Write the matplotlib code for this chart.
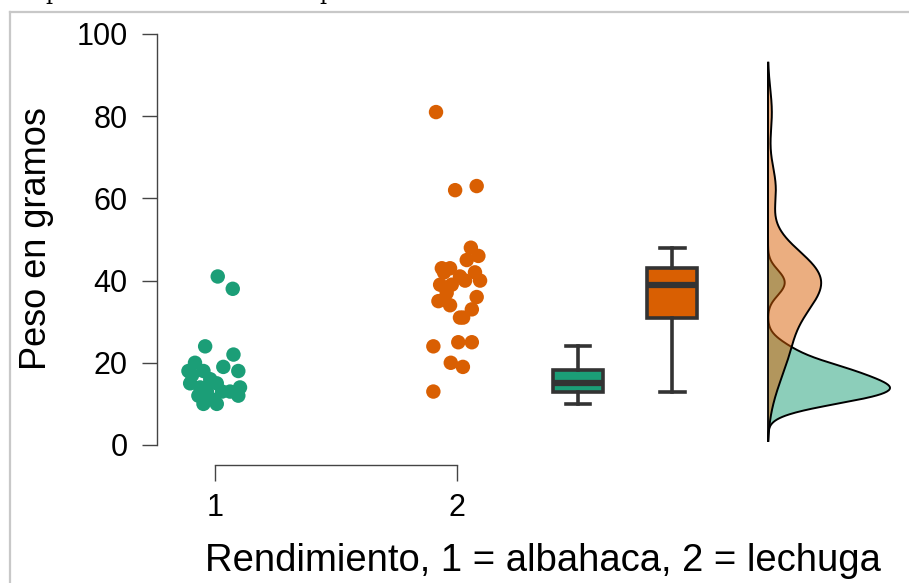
import numpy as np
import matplotlib
matplotlib.use("Agg")
import matplotlib.pyplot as plt
from matplotlib.lines import Line2D

plt.rcParams["font.family"] = ["Liberation Sans", "DejaVu Sans"]

# weights in grams
albahaca = [41, 38, 24, 22, 20, 19, 18, 18, 18, 17, 16, 15, 15, 14, 14, 14,
            13, 13, 13, 12, 12, 11, 10, 10]
albahaca_jitter = [0.011, 0.073, -0.041, 0.076, -0.083, 0.034, 0.096, -0.110,
                   -0.048, -0.095, -0.020, -0.103, 0.007, -0.062, 0.103, -0.037,
                   0.062, -0.034, 0.029, 0.096, -0.069, -0.007, -0.048, 0.007]

lechuga = [81, 63, 62, 48, 46, 45, 43, 43, 42, 42, 41, 40, 40, 39, 39, 37,
           36, 35, 34, 33, 31, 31, 25, 25, 24, 20, 19, 13]
lechuga_jitter = [-0.087, 0.081, -0.008, 0.057, 0.088, 0.040, -0.029, -0.063,
                  0.074, -0.054, 0.012, 0.095, 0.033, -0.022, -0.070, -0.043,
                  0.081, -0.077, -0.029, 0.061, 0.025, 0.012, 0.005, 0.061,
                  -0.098, -0.026, 0.024, -0.098]

groups = [albahaca, lechuga]
jitters = [albahaca_jitter, lechuga_jitter]
group_labels = ["1", "2"]
colors = ["#1B9E77", "#D95F02"]
bandwidths = [2.4, 5.5]

box_pos = [2.5, 2.89]
dens_base = 3.285
dens_range = (1, 93)


def kde(values, grid, bw):
    v = np.asarray(values, dtype=float)[:, None]
    z = (grid[None, :] - v) / bw
    return np.exp(-0.5 * z ** 2).sum(axis=0) / (len(v) * bw * np.sqrt(2 * np.pi))


W, H = 909, 583
fig = plt.figure(figsize=(W / 100, H / 100), dpi=100)
ax = fig.add_axes([157 / W, 1 - 465 / H, (905 - 157) / W, (465 - 30) / H])
ax.set_xlim(0.760, 3.851)
ax.set_ylim(-4.87, 100.97)

# jittered points
for i, (vals, jit) in enumerate(zip(groups, jitters)):
    xs = np.array(jit) + i + 1
    ax.scatter(xs, vals, s=108, color=colors[i], edgecolors="none", zorder=3)

# boxplots
bp = ax.boxplot(groups, positions=box_pos, widths=0.207, showfliers=False,
                patch_artist=True, manage_ticks=False, capwidths=0.1,
                medianprops=dict(color="#333333", linewidth=4.5),
                whiskerprops=dict(color="#333333", linewidth=2.6),
                capprops=dict(color="#333333", linewidth=2.6),
                boxprops=dict(edgecolor="#333333", linewidth=2.6))
for patch, c in zip(bp["boxes"], colors):
    patch.set_facecolor(c)

# half densities
grid = np.linspace(dens_range[0], dens_range[1], 600)
dens = [kde(g, grid, bw) for g, bw in zip(groups, bandwidths)]
scale = 0.504 / dens[0].max()
for d, c in zip(dens, colors):
    ax.fill_betweenx(grid, dens_base, dens_base + d * scale, facecolor=c,
                     alpha=0.5, edgecolor="none", zorder=2)
    ax.plot(dens_base + d * scale, grid, color="black", lw=1.4, zorder=2)
ax.plot([dens_base, dens_base], dens_range, color="black", lw=1.3, zorder=2)

# axes styling
for s in ["top", "right"]:
    ax.spines[s].set_visible(False)
ax.spines["left"].set_bounds(0, 100)
ax.spines["bottom"].set_bounds(1, 2)
for s in ["left", "bottom"]:
    ax.spines[s].set_color("#444444")
    ax.spines[s].set_linewidth(1.0)

ax.set_yticks([0, 20, 40, 60, 80, 100])
ax.set_xticks([1, 2])
ax.set_xticklabels(group_labels)
ax.tick_params(axis="y", length=11, width=1.0, color="#444444", pad=10,
               labelsize=22)
ax.tick_params(axis="x", length=11.5, width=1.0, color="#444444", pad=9,
               labelsize=22)

fig.text(37 / W, 1 - 239 / H, "Peso en gramos", rotation=90, fontsize=26,
         ha="center", va="center")
fig.text(543 / W, 1 - 561 / H, "Rendimiento, 1 = albahaca, 2 = lechuga",
         fontsize=27.5, ha="center", va="center")

# screenshot frame and cut-off caption above it
fig.add_artist(Line2D([10 / W, 10 / W], [0, 1 - 12 / H], color="#C8C8C8",
                      lw=1.6, transform=fig.transFigure))
fig.add_artist(Line2D([10 / W, 1], [1 - 12 / H, 1 - 12 / H], color="#C8C8C8",
                      lw=1.6, transform=fig.transFigure))
for xp in [52, 327]:
    fig.text(xp / W, 1 + 1 / H, "p", family="DejaVu Serif", fontsize=16,
             ha="center", va="baseline")

fig.savefig("out.png", dpi=100)
